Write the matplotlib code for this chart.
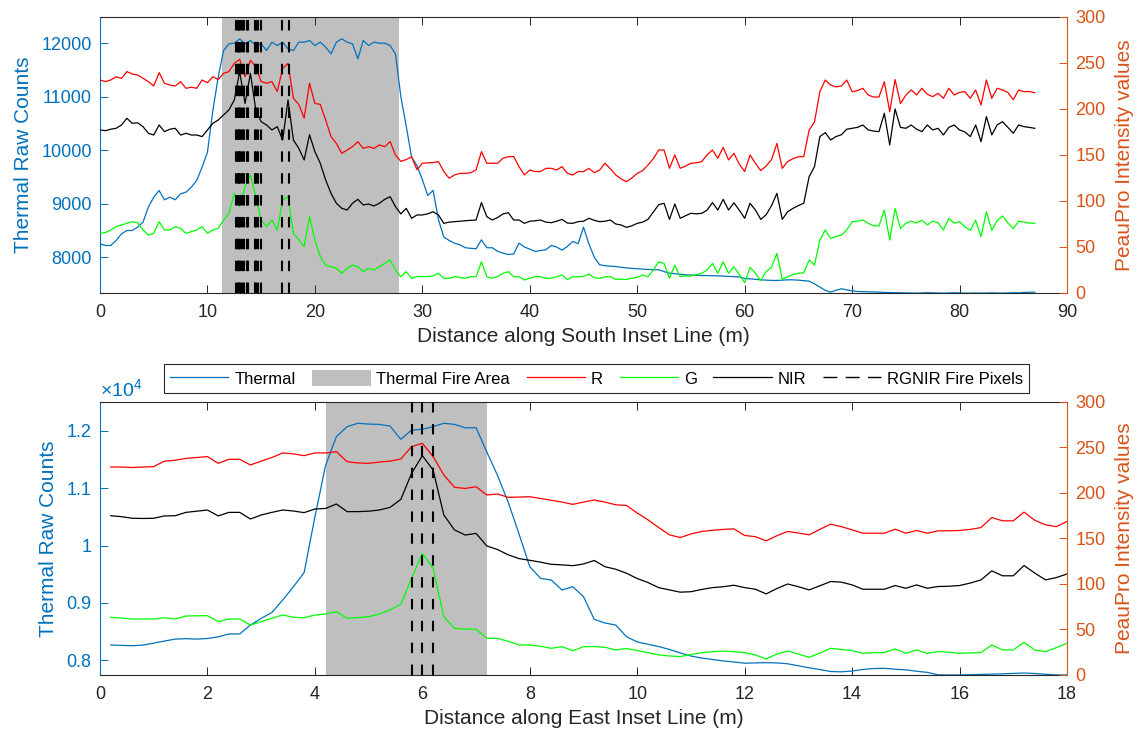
import numpy as np
import matplotlib
matplotlib.use("Agg")
import matplotlib.pyplot as plt
from matplotlib.patches import Patch
from matplotlib.lines import Line2D
from matplotlib.ticker import FuncFormatter

plt.rcParams['font.family'] = ['Liberation Sans', 'DejaVu Sans']
plt.rcParams['mathtext.fontset'] = 'custom'
plt.rcParams['mathtext.rm'] = 'Liberation Sans'

# cores (padrão matlab)
azul = '#0072BD'
laranja = '#D95319'
cinza_txt = '#262626'
cinza_area = '#BFBFBF'

# --------------------------
# LINHA SUL (passo 0.5 m)
# --------------------------
south_dist = np.arange(0, 87.01, 0.5)

south_thermal = [
    8249, 8218, 8218, 8312, 8436, 8498, 8498, 8561, 8654, 8935,
    9121, 9246, 9072, 9121, 9072, 9184, 9215, 9308, 9433, 9682,
    9963, 10741, 11364, 11863, 11988, 12000, 12081, 11988, 12050, 11956,
    11988, 11863, 12019, 11956, 12019, 11894, 11863, 12019, 12019, 12050,
    11956, 12019, 11925, 11801, 12019, 12081, 12019, 11988, 11707, 12050,
    11956, 12019, 12000, 12000, 11956, 11801, 11000, 10450, 9869, 9714,
    9450, 9153, 9247, 8700, 8374, 8312, 8260, 8230, 8176, 8165,
    8157, 8324, 8176, 8176, 8110, 8075, 8050, 8060, 8262, 8190,
    8150, 8107, 8125, 8138, 8218, 8190, 8130, 8200, 8293, 8251,
    8561, 8251, 8000, 7857, 7840, 7830, 7826, 7810, 7800, 7790,
    7783, 7775, 7770, 7766, 7764, 7730, 7700, 7690, 7680, 7670,
    7665, 7660, 7658, 7655, 7652, 7651, 7645, 7640, 7635, 7630,
    7600, 7595, 7585, 7576, 7570, 7565, 7564, 7570, 7576, 7576,
    7570, 7560, 7551, 7500, 7439, 7380, 7346, 7380, 7408, 7390,
    7370, 7358, 7355, 7352, 7350, 7346, 7340, 7338, 7335, 7333,
    7330, 7328, 7327, 7330, 7335, 7332, 7328, 7327, 7330, 7334,
    7330, 7328, 7327, 7330, 7327, 7329, 7332, 7330, 7327, 7330,
    7335, 7332, 7340, 7342, 7346,
]

south_r = [
    231.5, 229.7, 231.5, 235, 233.3, 240.6, 238, 237, 233.3, 229.7,
    225, 239.5, 228, 226, 225, 229.7, 222.5, 223.6, 222.5, 231.5,
    228.6, 235, 232, 238.8, 240.6, 249.6, 254, 235, 253, 246,
    229.7, 228, 229.7, 219, 244, 249.6, 211.6, 205, 190, 228,
    206, 205, 188, 170, 162.6, 151.8, 155.4, 159, 164.5, 157.2,
    159, 157.2, 160.9, 159, 164.5, 150, 143, 145, 148, 134,
    141, 141.5, 141.7, 142.8, 132, 124.7, 128.3, 130, 130, 130.8,
    133.7, 153.6, 141, 141, 141, 146.4, 148.2, 148.2, 137.3, 128.3,
    133.7, 132, 132, 135.5, 135.5, 133.7, 137.3, 130, 128.3, 132,
    132, 135.5, 130.8, 133.7, 141, 135, 128.3, 124, 121, 125,
    130, 133, 139, 146, 155.4, 155.4, 135.5, 150, 135.5, 138,
    141, 141.5, 142.8, 150, 155.4, 146.4, 158.3, 144.6, 151.8, 140,
    132, 150, 141, 133, 138, 145, 162.6, 135.5, 142.8, 146,
    148, 148.2, 177, 186, 218.8, 231.5, 226, 224, 225, 231.5,
    218.8, 220, 222.5, 215.2, 213, 213, 229.7, 197, 232, 206,
    215, 220.7, 215.2, 222.5, 216, 213.4, 217, 211.6, 222.5, 215.2,
    218, 218.8, 211.6, 220.7, 204.3, 231.5, 211.6, 222.5, 220.7, 218,
    210, 220.7, 218.8, 219, 217.6,
]

south_g = [
    64.9, 65.6, 68.5, 72.1, 73.9, 75.7, 77.5, 76.4, 68.5, 63,
    64.9, 77.5, 68.5, 68.5, 72.1, 70.3, 64.9, 66.7, 68.5, 72.1,
    64.9, 68.5, 70.3, 79.3, 86.6, 108.3, 93.8, 115.6, 128.3, 104.7,
    79.3, 72.1, 79.3, 68.5, 101, 104.7, 64.9, 57.6, 50.4, 83,
    57.6, 39.5, 30.4, 28.6, 26.8, 21.4, 26.8, 30.4, 28.6, 23.2,
    26.8, 25, 28.6, 32.2, 35.9, 25, 17.7, 23.2, 15.9, 18,
    17.7, 18, 18.5, 21.4, 16, 16, 17.7, 17, 16, 17.7,
    17.7, 33.9, 17.7, 16, 17.7, 21.4, 23.2, 17.7, 17.7, 14.1,
    16, 17.7, 17.7, 16, 16, 17.7, 19.6, 14.5, 17.7, 17.7,
    18, 20.7, 16.5, 16, 17.7, 17.7, 14.8, 15, 14.8, 16,
    17, 19.6, 17.7, 25, 33.9, 32.1, 16, 30.3, 17.7, 18.5,
    18.5, 20, 21.4, 25, 32.1, 21.4, 33.9, 21.4, 28.5, 20,
    11.2, 27.8, 21.4, 13.4, 23.2, 28, 43.1, 14.8, 17.7, 20,
    21.4, 22, 35.9, 30.4, 57.6, 68.5, 59.4, 61.2, 63, 68.5,
    77.5, 78, 79.3, 75.7, 73, 72.8, 90.2, 57.6, 92, 70,
    75.7, 78, 76, 79, 74, 78, 76.5, 68.5, 81.2, 76,
    77.5, 72, 68, 79, 61.2, 88.3, 68, 79, 83.7, 76,
    70, 78, 77, 76, 75.7,
]

south_nir = [
    177.2, 176.4, 178, 179, 182.6, 189.9, 184.4, 185, 180.8, 173.6,
    171.7, 182.6, 175.4, 178, 179, 171.7, 173.6, 171.7, 171.7, 170,
    177.2, 184.4, 188, 193.5, 199, 209.8, 240.6, 206, 238.8, 199,
    186.2, 182.6, 177.2, 180.8, 166.3, 209.8, 166.3, 157.2, 144.6, 172,
    153.6, 141, 122.8, 108.3, 97.5, 92, 90.2, 97.5, 101.8, 95.7,
    96.7, 94.6, 97.5, 101.8, 104.7, 93.8, 85.9, 92, 81.2, 84.8,
    84.8, 86, 88.3, 84.8, 75.7, 77, 77.5, 78, 78.6, 79,
    79.3, 98.2, 83, 79.3, 82, 85.9, 87.3, 79.3, 79.3, 75.7,
    78, 78.5, 79.3, 77, 76.4, 78, 80, 76, 75.7, 77.5,
    78, 81.2, 79, 77.5, 78, 79.3, 75, 73.9, 71.3, 73,
    75.7, 77, 80, 88, 96, 97.5, 80, 96.7, 81.2, 84,
    86.6, 86, 86.6, 90, 98.2, 90.2, 101.8, 90.2, 98, 90,
    81.2, 97.5, 90.2, 80, 85, 95, 108.3, 80, 88.3, 92,
    95, 97.5, 126.4, 137.3, 170, 174.3, 166.3, 170, 172, 178,
    179, 180, 182.6, 177.2, 176, 175.4, 195.3, 160.9, 200, 180,
    179, 182.6, 178, 175.4, 182.6, 177.2, 179, 171.8, 180, 182.6,
    177.2, 175, 170, 182.6, 164.5, 191.7, 171.8, 182.6, 186.2, 180,
    173.6, 182.6, 180.8, 180, 179,
]

south_fire = (11.4, 27.8)
south_fire_px = [12.65, 12.8, 12.95, 13.05, 13.25, 13.4, 13.65, 13.75,
                 14.4, 14.55, 14.75, 14.95, 16.9, 17.6]

# --------------------------
# LINHA LESTE (passo 0.2 m)
# --------------------------
east_dist = np.round(np.arange(0.2, 18.01, 0.2), 1)

east_thermal = [
    8267, 8260, 8255, 8265, 8300, 8336, 8370, 8377, 8370, 8380,
    8410, 8458, 8460, 8615, 8730, 8835, 9050, 9282, 9530, 10500,
    11400, 11896, 12070, 12129, 12115, 12110, 12080, 11850, 12012, 12024,
    12070, 12129, 12110, 12050, 12050, 11630, 11220, 10750, 10200, 9631,
    9428, 9399, 9225, 9283, 9108, 8715, 8650, 8615, 8412, 8320,
    8280, 8240, 8190, 8130, 8075, 8040, 8015, 7990, 7972, 7950,
    7955, 7959, 7955, 7940, 7905, 7870, 7840, 7805, 7800, 7814,
    7840, 7858, 7861, 7845, 7835, 7810, 7790, 7748, 7745, 7745,
    7750, 7755, 7760, 7765, 7772, 7779, 7770, 7758, 7745, 7745,
]

east_r = [
    228.6, 228.5, 228, 228.5, 229, 235, 236, 238, 239, 240,
    232.6, 237, 237, 230.8, 235, 239, 244, 243, 241, 244,
    244, 245.4, 234.4, 233, 232.6, 234, 235, 237.4, 250.9, 254.6,
    240, 219.8, 206.2, 205, 206.9, 197.8, 198.9, 195.2, 195.5, 195.9,
    194, 192, 190, 187.5, 190, 192.3, 190, 187, 186.3, 178,
    170.5, 162, 154, 151, 155, 157.7, 159, 160, 160.6, 153.3,
    152, 147.4, 153, 157.7, 156, 154, 160, 165.7, 163, 159.5,
    155.8, 155.8, 155.8, 160.2, 155.8, 158.8, 155.8, 158.4, 158.5, 158.8,
    160, 162, 173, 169.4, 169.4, 179, 170, 165, 163, 168.7,
]

east_g = [
    63.4, 62.5, 61.5, 61.5, 61.5, 62.9, 61.5, 64.8, 65, 65.2,
    58.6, 61.5, 61.5, 54.9, 58.6, 62.3, 65.9, 63.4, 62.9, 65.9,
    67, 69.6, 62.3, 63, 64.1, 67, 71.4, 78, 106.2, 133.7,
    117.2, 64.1, 51.3, 50.5, 50.2, 40.3, 40.3, 37, 33, 33,
    31.5, 29.3, 31.1, 26.7, 31.1, 31.2, 30.4, 27.5, 29, 27,
    24.6, 22, 20.9, 20.2, 22.5, 24.6, 25.5, 26.4, 25.5, 24.6,
    22, 17.6, 23, 26.4, 23, 19.4, 24, 29.3, 28, 26.8,
    23.8, 24.6, 24.6, 28.6, 23.8, 27.5, 23.8, 25.7, 25, 23.8,
    24.2, 24.6, 33, 27.5, 27.5, 35.9, 27.5, 25.7, 30, 34.8,
]

east_nir = [
    175, 174, 172.2, 172, 172.2, 174.8, 175, 178.7, 180, 181.3,
    174.8, 178.7, 178.7, 171.4, 175.8, 178.7, 181.3, 180.2, 178.4, 182.4,
    183, 187.9, 179.5, 179.5, 180, 181.3, 184.2, 193, 221.6, 241,
    225.3, 175.8, 159.3, 153.8, 155.6, 141.8, 137.8, 132, 127.9, 126,
    124, 121.6, 121, 120.1, 122, 125.8, 119, 116.2, 111.8, 106,
    101.6, 96, 93.5, 91, 91.5, 94, 96, 97, 98.6, 96,
    94.2, 89.1, 95, 100, 97, 93.5, 98, 102.7, 102, 99,
    94.2, 94.2, 94.2, 98.3, 95.3, 99, 95.3, 97.2, 97.5, 98.3,
    101, 104.5, 114.4, 109, 109, 120.3, 112, 104.5, 107, 111,
]

east_fire = (4.2, 7.2)
east_fire_px = [5.8, 6.0, 6.2]

tracejado = (0, (5, 5.5))


def painel(ax, dist, thermal, r, g, nir, fire, fire_px, xmax, xstep, ylim_t, xlabel):
    ax.axvspan(fire[0], fire[1], color=cinza_area, lw=0, zorder=0)
    ax.plot(dist, thermal, color=azul, lw=0.9, zorder=2)
    ax.set_xlim(0, xmax)
    ax.set_ylim(*ylim_t)
    ax.set_xticks(np.arange(0, xmax + 0.01, xstep))
    ax.set_yticks([8000, 9000, 10000, 11000, 12000])
    ax.set_ylabel('Thermal Raw Counts', color=azul, fontsize=15, labelpad=6)
    ax.set_xlabel(xlabel, color=cinza_txt, fontsize=15, labelpad=4)
    ax.tick_params(axis='x', direction='in', top=True, length=6, width=0.7,
                   colors=cinza_txt, labelsize=13, pad=8)
    ax.tick_params(axis='y', direction='in', length=6, width=0.7,
                   colors=azul, labelsize=13, pad=6)
    for s in ['top', 'bottom']:
        ax.spines[s].set_color(cinza_txt)
        ax.spines[s].set_linewidth(0.8)
    ax.spines['left'].set_color(azul)
    ax.spines['left'].set_linewidth(0.8)
    ax.spines['right'].set_visible(False)

    ax2 = ax.twinx()
    ax2.plot(dist, r, color='#FF0000', lw=0.9)
    ax2.plot(dist, g, color='#00FF00', lw=0.9)
    ax2.plot(dist, nir, color='black', lw=0.9)
    for xp in fire_px:
        ax2.axvline(xp, color='black', lw=1.5, linestyle=tracejado)
    ax2.set_ylim(0, 300)
    ax2.set_yticks(np.arange(0, 301, 50))
    ax2.set_ylabel('PeauPro Intensity values', color=laranja, fontsize=15, labelpad=7)
    ax2.tick_params(axis='y', direction='in', length=6, width=0.7,
                    colors=laranja, labelsize=13, pad=6)
    for s in ['top', 'bottom', 'left']:
        ax2.spines[s].set_visible(False)
    ax2.spines['right'].set_color(laranja)
    ax2.spines['right'].set_linewidth(0.8)
    return ax2


fig = plt.figure(figsize=(11.43, 7.38), dpi=100)

ax_sul = fig.add_axes([0.0875, 0.6030, 0.8460, 0.3740])
painel(ax_sul, south_dist, south_thermal, south_r, south_g, south_nir,
       south_fire, south_fire_px, 90, 10, (7330, 12490),
       'Distance along South Inset Line (m)')

ax_leste = fig.add_axes([0.0875, 0.0854, 0.8460, 0.3699])
painel(ax_leste, east_dist, east_thermal, east_r, east_g, east_nir,
       east_fire, east_fire_px, 18, 2, (7745, 12500),
       'Distance along East Inset Line (m)')
ax_leste.yaxis.set_major_formatter(FuncFormatter(lambda v, p: '%g' % (v / 1e4)))
ax_leste.text(0.0, 1.008, r'$\times\mathregular{10^4}$', transform=ax_leste.transAxes,
              ha='left', va='bottom', color=azul, fontsize=14)

# legenda entre os dois paineis
handles = [
    Line2D([], [], color=azul, lw=0.9),
    Patch(facecolor=cinza_area, edgecolor='none'),
    Line2D([], [], color='#FF0000', lw=0.9),
    Line2D([], [], color='#00FF00', lw=0.9),
    Line2D([], [], color='black', lw=0.9),
    Line2D([], [], color='black', lw=1.0, linestyle=(0, (10, 6))),
]
rotulos = ['Thermal', 'Thermal Fire Area', 'R', 'G', 'NIR', 'RGNIR Fire Pixels']
leg = fig.legend(handles, rotulos, loc='center', bbox_to_anchor=(0.522, 0.487),
                 ncol=6, fontsize=12, handlelength=3.5, handleheight=1.1,
                 handletextpad=0.35, columnspacing=1.0, borderpad=0.35,
                 fancybox=False, framealpha=1)
leg.get_frame().set_edgecolor(cinza_txt)
leg.get_frame().set_linewidth(0.8)

fig.savefig('out.png', dpi=100)
